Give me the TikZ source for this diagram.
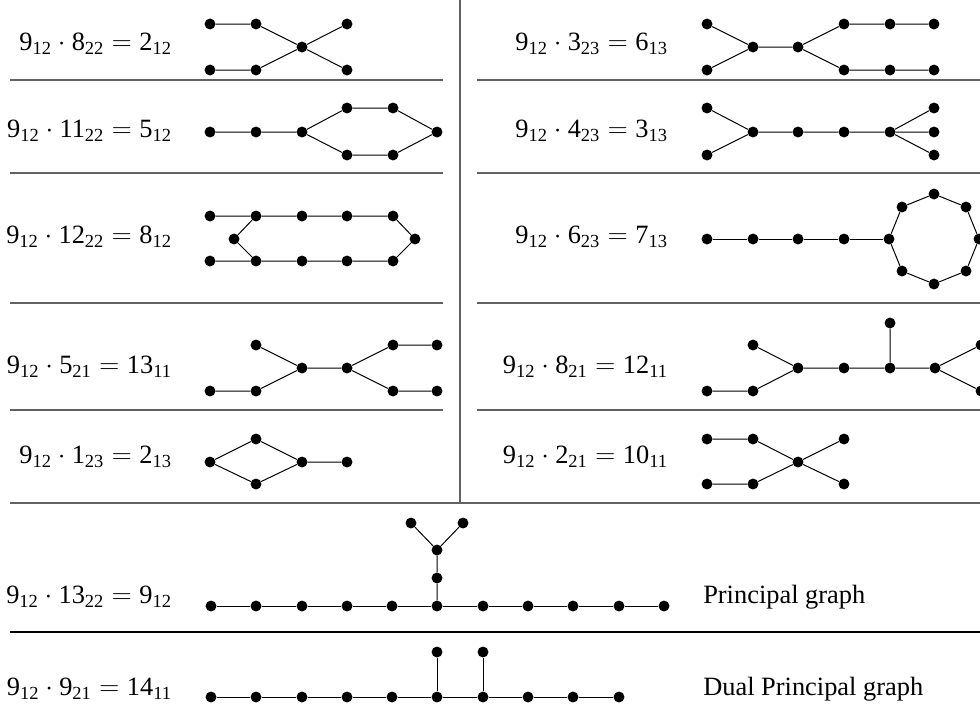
\documentclass[tikz,border=0pt]{standalone}
\usepackage{fontspec}
\setmainfont{Liberation Serif}
\newcommand{\lab}[6]{#1\textsubscript{#2}${}\cdot{}$#3\textsubscript{#4}${}={}$#5\textsubscript{#6}}
\begin{document}
\begin{tikzpicture}[x=0.75pt,y=-0.75pt,
  v/.style={circle,fill=black,inner sep=0pt,minimum size=8.2pt},
  ed/.style={line width=0.75pt,black},
  rule/.style={line width=1pt,black!62},
  rulebk/.style={line width=0.8pt,black},
  lbl/.style={inner sep=0pt,font=\fontsize{19.8}{23}\selectfont},
  ]
\useasboundingbox (0,0) rectangle (980,708);
\clip (0,0) rectangle (980,708);
% rules
\draw[rule] (460,0) -- (460,503);
\foreach \y in {80,173,303,410}{
  \draw[rule] (10,\y) -- (443,\y);
  \draw[rule] (477,\y) -- (980,\y);
}
\draw[rule] (10,503) -- (980,503);
\draw[rulebk] (10,632) -- (980,632);
% labels
\node[lbl,anchor=base east] (tA) at (172,50) {\lab{9}{12}{8}{22}{2}{12}};
\node[lbl,anchor=base east] (tB) at (172,137) {\lab{9}{12}{11}{22}{5}{12}};
\node[lbl,anchor=base east] (tC) at (172,243) {\lab{9}{12}{12}{22}{8}{12}};
\node[lbl,anchor=base east] (tD) at (172,373) {\lab{9}{12}{5}{21}{13}{11}};
\node[lbl,anchor=base east] (tE) at (172,463) {\lab{9}{12}{1}{23}{2}{13}};
\node[lbl,anchor=base east] (tG) at (668,50) {\lab{9}{12}{3}{23}{6}{13}};
\node[lbl,anchor=base east] (tH) at (668,137) {\lab{9}{12}{4}{23}{3}{13}};
\node[lbl,anchor=base east] (tI) at (668,243) {\lab{9}{12}{6}{23}{7}{13}};
\node[lbl,anchor=base east] (tJ) at (668,373) {\lab{9}{12}{8}{21}{12}{11}};
\node[lbl,anchor=base east] (tK) at (668,463) {\lab{9}{12}{2}{21}{10}{11}};
\node[lbl,anchor=base east] (tP) at (172,603) {\lab{9}{12}{13}{22}{9}{12}};
\node[lbl,anchor=base east] (tR) at (172,695) {\lab{9}{12}{9}{21}{14}{11}};
\node[lbl,anchor=base west] (tPG) at (703,603) {Principal graph};
\node[lbl,anchor=base west] (tDG) at (703,695) {Dual Principal graph};
% Row A
\node[v] (a1) at (210,24) {}; \node[v] (a2) at (256,24) {};
\node[v] (a3) at (210,70) {}; \node[v] (a4) at (256,70) {};
\node[v] (a5) at (302,47) {}; \node[v] (a6) at (347,24) {};
\node[v] (a7) at (347,70) {};
\draw[ed] (a1)--(a2)--(a5)--(a6) (a3)--(a4)--(a5)--(a7);
% Row B
\node[v] (b1) at (210,132) {}; \node[v] (b2) at (256,132) {};
\node[v] (b3) at (302,132) {}; \node[v] (b4) at (347,108) {};
\node[v] (b5) at (393,108) {}; \node[v] (b6) at (437,132) {};
\node[v] (b7) at (347,155) {}; \node[v] (b8) at (393,155) {};
\draw[ed] (b1)--(b2)--(b3)--(b4)--(b5)--(b6)--(b8)--(b7)--(b3);
% Row C
\foreach \i/\x in {1/210,2/256,3/302,4/347,5/393}{
  \node[v] (c\i) at (\x,216) {};
  \node[v] (d\i) at (\x,261) {};
}
\node[v] (m1) at (234,239) {}; \node[v] (m2) at (415,239) {};
\draw[ed] (c1)--(c2)--(c3)--(c4)--(c5)--(m2)--(d5)--(d4)--(d3)--(d2)--(d1);
\draw[ed] (c2)--(m1)--(d2);
% Row D
\node[v] (e1) at (256,345) {}; \node[v] (e2) at (210,391) {};
\node[v] (e3) at (256,391) {}; \node[v] (e4) at (302,368) {};
\node[v] (e5) at (347,368) {}; \node[v] (e6) at (393,345) {};
\node[v] (e7) at (437,345) {}; \node[v] (e8) at (393,391) {};
\node[v] (e9) at (437,391) {};
\draw[ed] (e2)--(e3)--(e4)--(e5)--(e6)--(e7) (e1)--(e4) (e5)--(e8)--(e9);
% Row E
\node[v] (f1) at (210,462) {}; \node[v] (f2) at (256,439) {};
\node[v] (f3) at (256,484) {}; \node[v] (f4) at (302,462) {};
\node[v] (f5) at (347,462) {};
\draw[ed] (f1)--(f2)--(f4)--(f5) (f1)--(f3)--(f4);
% Row G
\node[v] (g1) at (707,24) {}; \node[v] (g2) at (707,70) {};
\node[v] (g3) at (753,47) {}; \node[v] (g4) at (798,47) {};
\node[v] (g5) at (844,24) {}; \node[v] (g6) at (890,24) {};
\node[v] (g7) at (934,24) {}; \node[v] (g8) at (844,70) {};
\node[v] (g9) at (890,70) {}; \node[v] (g10) at (934,70) {};
\draw[ed] (g1)--(g3)--(g4)--(g5)--(g6)--(g7) (g2)--(g3) (g4)--(g8)--(g9)--(g10);
% Row H
\node[v] (h1) at (707,108) {}; \node[v] (h2) at (707,155) {};
\node[v] (h3) at (753,132) {}; \node[v] (h4) at (798,132) {};
\node[v] (h5) at (844,132) {}; \node[v] (h6) at (890,132) {};
\node[v] (h7) at (934,108) {}; \node[v] (h8) at (934,132) {};
\node[v] (h9) at (934,155) {};
\draw[ed] (h1)--(h3)--(h4)--(h5)--(h6)--(h7) (h2)--(h3) (h6)--(h8) (h6)--(h9);
% Row I
\node[v] (i1) at (707,239) {}; \node[v] (i2) at (753,239) {};
\node[v] (i3) at (798,239) {}; \node[v] (i4) at (844,239) {};
\node[v] (o0) at (889,239) {}; \node[v] (o1) at (902,207) {};
\node[v] (o2) at (934,194) {}; \node[v] (o3) at (966,207) {};
\node[v] (o4) at (979,239) {}; \node[v] (o5) at (966,271) {};
\node[v] (o6) at (934,284) {}; \node[v] (o7) at (902,271) {};
\draw[ed] (i1)--(i2)--(i3)--(i4)--(o0);
\draw[ed] (o0)--(o1)--(o2)--(o3)--(o4)--(o5)--(o6)--(o7)--(o0);
% Row J
\node[v] (j1) at (753,345) {}; \node[v] (j2) at (707,391) {};
\node[v] (j3) at (753,391) {}; \node[v] (j4) at (798,368) {};
\node[v] (j5) at (844,368) {}; \node[v] (j6) at (890,368) {};
\node[v] (j7) at (890,323) {}; \node[v] (j8) at (935,368) {};
\node[v] (j9) at (981,345) {}; \node[v] (j10) at (981,391) {};
\draw[ed] (j2)--(j3)--(j4)--(j5)--(j6)--(j8)--(j9) (j1)--(j4) (j6)--(j7) (j8)--(j10);
% Row K
\node[v] (k1) at (707,439) {}; \node[v] (k2) at (753,439) {};
\node[v] (k3) at (707,484) {}; \node[v] (k4) at (753,484) {};
\node[v] (k5) at (798,462) {}; \node[v] (k6) at (844,439) {};
\node[v] (k7) at (844,484) {};
\draw[ed] (k1)--(k2)--(k5)--(k6) (k3)--(k4)--(k5)--(k7);
% Principal graph
\foreach \i/\x in {1/211,2/256,3/302,4/347,5/392,6/437,7/483,8/528,9/573,10/619,11/664}{
  \node[v] (p\i) at (\x,606) {};
}
\foreach \i/\j in {1/2,2/3,3/4,4/5,5/6,6/7,7/8,8/9,9/10,10/11}{
  \draw[ed] (p\i)--(p\j);
}
\node[v] (q1) at (437,578) {}; \node[v] (q2) at (437,550) {};
\node[v] (q3) at (411,523) {}; \node[v] (q4) at (463,523) {};
\draw[ed] (p6)--(q1)--(q2)--(q3) (q2)--(q4);
% Dual principal graph
\foreach \i/\x in {1/211,2/256,3/302,4/347,5/392,6/437,7/483,8/528,9/573,10/619}{
  \node[v] (r\i) at (\x,697) {};
}
\foreach \i/\j in {1/2,2/3,3/4,4/5,5/6,6/7,7/8,8/9,9/10}{
  \draw[ed] (r\i)--(r\j);
}
\node[v] (s1) at (437,652) {}; \node[v] (s2) at (483,652) {};
\draw[ed] (r6)--(s1) (r7)--(s2);
\end{tikzpicture}
\end{document}
